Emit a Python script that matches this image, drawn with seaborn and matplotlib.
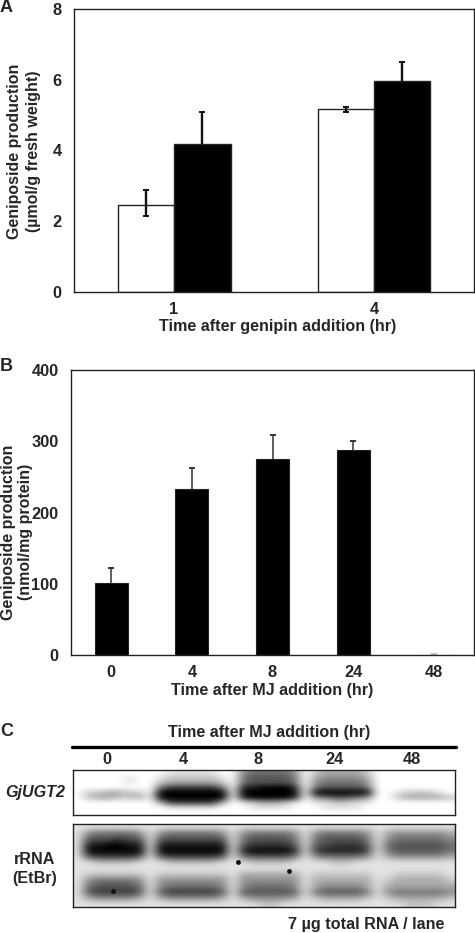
import numpy as np
import pandas as pd
import matplotlib
matplotlib.use("Agg")
import matplotlib.pyplot as plt
import seaborn as sns

# Panel A data
a_times = ["1", "4"]
a_control = [2.47, 5.16]
a_control_low = [0.33, 0.08]
a_control_high = [0.40, 0.08]
a_treated = [4.18, 5.96]
a_treated_high = [0.92, 0.54]

# Panel B data
b_times = ["0", "4", "8", "24", "48"]
b_values = [101, 233, 275, 288, 0]
b_err = [21, 29, 34, 13, 1]

# Panel C blots, darkness 0-9 (lanes split by spaces)
lane_labels = ["0", "4", "8", "24", "48"]
gene_blot = [
    "0 000000 0 0111110 0 455554 0 233332 0 0000000",
    "0 000010 0 1222221 0 566665 0 344443 0 0000000",
    "0 000010 0 2333332 0 566665 0 455554 0 0000000",
    "0 000000 0 5777775 0 889998 0 566665 0 0000000",
    "0 223322 0 9999999 0 999999 0 999999 0 0122210",
    "0 233223 0 9999999 0 899998 0 456654 0 0233332",
    "0 000000 0 3777773 0 123321 0 112211 0 0000000",
    "0 000000 0 0111110 0 011110 0 011110 0 0000000",
    "0 000000 0 0000000 0 000000 0 000000 0 0000000",
]
rrna_blot = [
    "1 111111 1 1111111 1 111111 1 111111 1 1111111",
    "1 455554 1 4555554 1 455554 1 455554 1 3444443",
    "1 666766 1 6666666 1 566665 1 566665 1 4555554",
    "1 889988 1 8888888 1 677776 1 667776 1 5666665",
    "1 999999 1 9999999 1 899998 1 788887 1 5666665",
    "1 677776 1 6777776 1 566665 1 455554 1 3444443",
    "1 122221 1 1222221 1 122221 1 112211 1 1111111",
    "1 111111 1 1111111 1 111111 1 111111 1 1111111",
    "1 222222 1 2222222 1 333333 1 222222 1 1222221",
    "1 455554 1 4444444 1 444444 1 333333 1 2333332",
    "1 566665 1 4555554 1 455554 1 344443 1 3333333",
    "1 677776 1 6777776 1 666666 1 566665 1 4555554",
    "1 344443 1 3444443 1 344443 1 233332 1 2333332",
    "1 111111 1 1111111 1 112211 1 111111 1 1122211",
]
# dark specks on the rRNA gel, in blot columns and rows
speck_cols = [15.5, 20.4, 3.4]
speck_rows = [5.9, 7.4, 10.8]

W, H = 475, 933
sns.set_style("white")
plt.rcParams["font.family"] = ["Liberation Sans", "DejaVu Sans"]
plt.rcParams["font.weight"] = "bold"

fig = plt.figure(figsize=(W / 100, H / 100), dpi=100, facecolor="white")


def px_axes(left, top, right, bottom):
    return fig.add_axes([left / W, 1 - bottom / H, (right - left) / W, (bottom - top) / H])


def px_text(x, y, s, **kw):
    kw.setdefault("ha", "center")
    kw.setdefault("va", "center")
    kw.setdefault("fontsize", 11.6)
    kw.setdefault("fontweight", "bold")
    fig.text(x / W, 1 - y / H, s, **kw)


def finish(ax, ymax, yticks):
    ax.set_ylim(0, ymax)
    ax.set_yticks(yticks)
    ax.tick_params(length=0, labelsize=11.8, pad=9)
    ax.tick_params(axis="x", pad=7)
    for side in ax.spines.values():
        side.set_visible(True)
        side.set_color("#222222")
        side.set_linewidth(1.0)
    ax.set_xlabel("")
    ax.set_ylabel("")


def err_up(ax, bar, lo, hi, color, lw, ms):
    x = bar.get_x() + bar.get_width() / 2
    y = bar.get_height()
    ax.errorbar(x, y, yerr=[[lo], [hi]], color=color, elinewidth=lw, capsize=0, clip_on=False)
    ax.plot([x], [y + hi], marker="_", ms=ms, mew=1.4, color=color, clip_on=False)
    if lo > 0:
        ax.plot([x], [y - lo], marker="_", ms=ms, mew=1.4, color=color)


# A
df_a = pd.DataFrame({
    "time": a_times * 2,
    "value": a_control + a_treated,
    "group": ["control"] * 2 + ["treated"] * 2,
})
ax_a = px_axes(74, 9, 474, 292)
sns.barplot(data=df_a, x="time", y="value", hue="group", ax=ax_a, legend=False,
            palette={"control": "white", "treated": "black"}, width=0.565, gap=0,
            edgecolor="#222222", linewidth=1.0, errorbar=None)
ax_a.set_xlim(-0.5, 1.5)
for bar, lo, hi in zip(ax_a.containers[0], a_control_low, a_control_high):
    err_up(ax_a, bar, lo, hi, "#111111", 1.7, 5)
for bar, hi in zip(ax_a.containers[1], a_treated_high):
    err_up(ax_a, bar, 0, hi, "#111111", 1.7, 5)
finish(ax_a, 8, [0, 2, 4, 6, 8])
px_text(24, 151, "Geniposide production\n(\u00b5mol/g fresh weight)", rotation=90,
        linespacing=1.32, fontsize=11.5)
px_text(278, 326, "Time after genipin addition (hr)")

# B
df_b = pd.DataFrame({"time": b_times, "value": b_values})
ax_b = px_axes(71, 370, 474, 655)
sns.barplot(data=df_b, x="time", y="value", ax=ax_b, color="black", width=0.41,
            saturation=1, errorbar=None, edgecolor="#222222", linewidth=0.8)
ax_b.set_xlim(-0.5, 4.5)
for bar, hi, col in zip(ax_b.containers[0], b_err, ["#333333"] * 4 + ["#bbbbbb"]):
    err_up(ax_b, bar, 0, hi, col, 1.1, 5)
finish(ax_b, 400, [0, 100, 200, 300, 400])
px_text(17, 532, "Geniposide production\n(nmol/mg protein)", rotation=90,
        linespacing=1.22, fontsize=11.5)
px_text(272, 690, "Time after MJ addition (hr)")

# C
px_text(269, 732, "Time after MJ addition (hr)")
fig.add_artist(plt.Line2D([72 / W, 456 / W], [1 - 747 / H] * 2, color="black", lw=2.4))
for x, lab in zip([107, 183, 258, 334, 412], lane_labels):
    px_text(x, 760, lab, fontsize=11.8)


def draw_blot(ax, rows):
    grid = np.array([[int(c) for c in r.replace(" ", "")] for r in rows], dtype=float)
    ax.imshow(grid, cmap="gray_r", vmin=0, vmax=9, aspect="auto", interpolation="bicubic")
    ax.set_autoscale_on(False)
    ax.set_xticks([])
    ax.set_yticks([])
    for side in ax.spines.values():
        side.set_visible(True)
        side.set_color("#222222")
        side.set_linewidth(1.0)


draw_blot(px_axes(73, 770, 455, 815), gene_blot)
ax_rrna = px_axes(73, 824, 455, 907)
draw_blot(ax_rrna, rrna_blot)
ax_rrna.scatter(speck_cols, speck_rows, s=12, color="#111111", linewidths=0)
px_text(35, 793, "GjUGT2", fontstyle="italic")
px_text(35, 869, "rRNA\n(EtBr)", linespacing=1.25)
px_text(366, 924, "7 \u00b5g total RNA / lane")

# panel letters
px_text(0, 8, "A", ha="left", fontsize=13)
px_text(0, 366, "B", ha="left", fontsize=13)
px_text(0, 731, "C", ha="left", fontsize=13)

fig.savefig("out.png", dpi=100)
